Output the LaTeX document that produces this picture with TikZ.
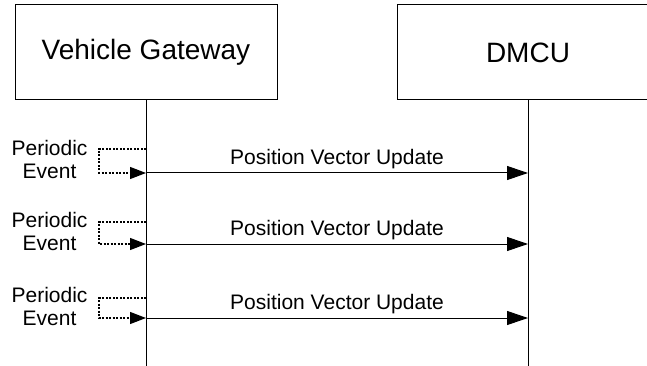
\documentclass[tikz,border=0pt]{standalone}
\usepackage{fontspec}
\setmainfont{Liberation Sans}
\usetikzlibrary{arrows.meta}

\begin{document}
\begin{tikzpicture}[x=1pt,y=-1pt,
  actor/.style={draw, line width=1pt, minimum width=262pt, minimum height=95pt, font=\fontsize{28}{31}\selectfont},
  lifeline/.style={line width=1pt},
  msg/.style={line width=1pt, -{Triangle[length=21pt,width=14pt]}},
  loopline/.style={line width=1.2pt, dash pattern=on 2pt off 1.5pt, -{Triangle[length=16pt,width=12pt]}},
  lbl/.style={font=\fontsize{21}{23}\selectfont}]
				\useasboundingbox (0,0) rectangle (647,366);
				\clip (0,0) rectangle (647,366);
				\node[actor] (gw) at (146,52.5) {Vehicle Gateway};
				\node[actor] (dmcu) at (528,52.5) {DMCU};
				\coordinate (gwend) at (146,366);
				\coordinate (dmcuend) at (528,366);
				\draw[lifeline] (gw) -- (gwend);
				\draw[lifeline] (dmcu) -- (dmcuend);
				
				\foreach \n/\top/\bot in {1/149/173, 2/222/244, 3/298/318} {
					\coordinate (gwt\n) at (146,\top);
					\coordinate (gwb\n) at (146,\bot);
					\coordinate (dmb\n) at (528,\bot);
					\draw[loopline] (gwt\n) -- ++(-47,0) |- (gwb\n);
					\draw[msg] (gwb\n) -- node[lbl, above] (upd\n) {Position Vector Update} (dmb\n);
					\node[lbl, align=center, anchor=east] (ev\n) at (91,{(\top+\bot)/2-2}) {Periodic\\Event};
				}
			\end{tikzpicture}
\end{document}
